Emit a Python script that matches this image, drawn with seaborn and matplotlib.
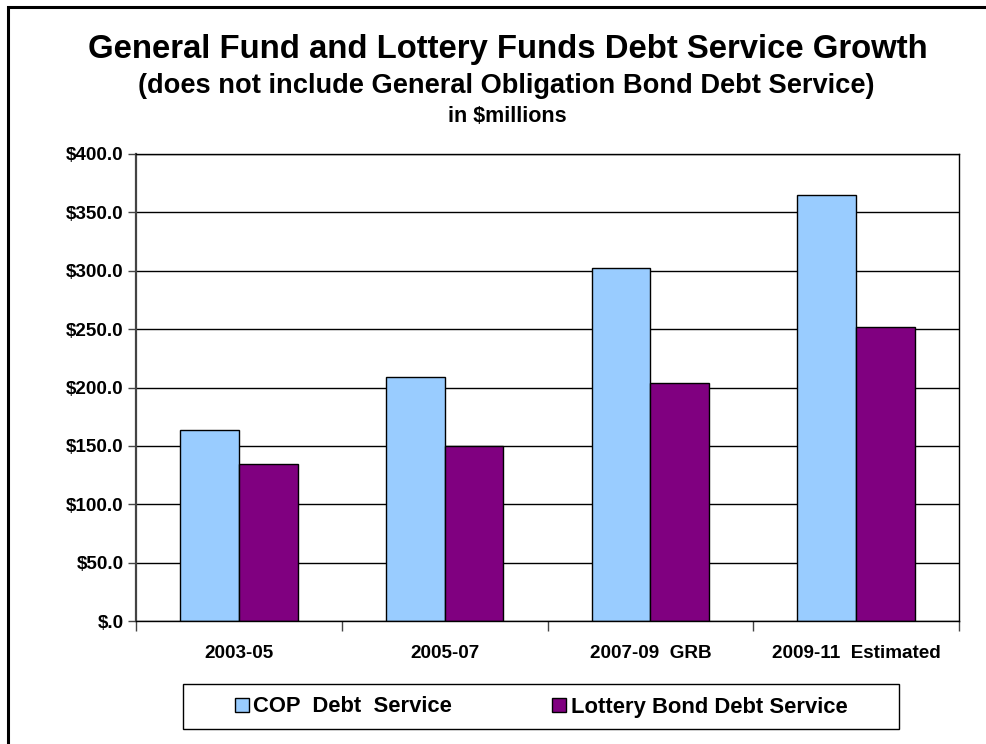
import matplotlib
matplotlib.use("Agg")
import matplotlib.pyplot as plt
import seaborn as sns
import pandas as pd
from matplotlib.ticker import FuncFormatter, FixedLocator
from matplotlib.patches import Rectangle

# ---- data ----
periods = ["2003-05", "2005-07", "2007-09  GRB", "2009-11  Estimated"]
cop_values = [163.6, 209.3, 302.1, 364.6]
lottery_values = [134.2, 149.9, 203.6, 251.5]
series_names = ["COP  Debt  Service", "Lottery Bond Debt Service"]
series_colors = ["#99CCFF", "#800080"]
y_ticks = [0, 50, 100, 150, 200, 250, 300, 350, 400]
title = "General Fund and Lottery Funds Debt Service Growth"
subtitle = "(does not include General Obligation Bond Debt Service)"
unit_text = "in $millions"

sns.set_theme(style="white")
plt.rcParams["font.family"] = ["Liberation Sans", "DejaVu Sans"]
plt.rcParams["font.weight"] = "bold"
plt.rcParams["text.color"] = "black"
plt.rcParams["xtick.color"] = "black"
plt.rcParams["ytick.color"] = "black"

df = pd.DataFrame({
    "period": periods * 2,
    "value": cop_values + lottery_values,
    "series": [series_names[0]] * len(periods) + [series_names[1]] * len(periods),
})

W, H = 986, 744
fig = plt.figure(figsize=(W / 100, H / 100), dpi=100)
fig.patch.set_facecolor("white")

ax = fig.add_axes([136 / W, 1 - 621 / H, (959 - 136) / W, (621 - 154) / H])
sns.barplot(data=df, x="period", y="value", hue="series", hue_order=series_names,
            order=periods, palette=series_colors, width=0.57, saturation=1,
            edgecolor="black", linewidth=1.0, ax=ax)

handles, labels = ax.get_legend_handles_labels()
if ax.get_legend() is not None:
    ax.get_legend().remove()

ax.set_xlim(-0.5, len(periods) - 0.5)
ax.set_ylim(0, 400)
ax.set_yticks(y_ticks)
ax.yaxis.set_major_formatter(FuncFormatter(lambda v, p: "$.0" if v == 0 else f"${v:.1f}"))
ax.set_xlabel("")
ax.set_ylabel("")
ax.set_axisbelow(True)
ax.yaxis.grid(True, color="black", linewidth=1.0)
ax.xaxis.grid(False)

for s in ax.spines.values():
    s.set_visible(True)
    s.set_color("black")
    s.set_linewidth(1.0)
ax.spines["left"].set_color("#444444")
ax.spines["left"].set_linewidth(1.6)

ax.xaxis.set_minor_locator(FixedLocator([i - 0.5 for i in range(len(periods) + 1)]))
ax.tick_params(axis="x", which="major", length=0, pad=17, labelsize=13.6, labelcolor="black")
ax.tick_params(axis="x", which="minor", bottom=True, length=7, width=1, color="#444444", direction="out")
ax.tick_params(axis="y", which="major", left=True, length=6, width=1, color="#444444",
               direction="out", pad=3, labelsize=13.6, labelcolor="black")
for t in ax.get_xticklabels() + ax.get_yticklabels():
    t.set_fontweight("bold")

# titles
fig.text(508 / W, 1 - 58 / H, title, ha="center", va="baseline", fontsize=23.7, fontweight="bold")
fig.text(506 / W, 1 - 93 / H, subtitle, ha="center", va="baseline", fontsize=19.6, fontweight="bold")
fig.text(507 / W, 1 - 122 / H, unit_text, ha="center", va="baseline", fontsize=15.5, fontweight="bold")

# legend
fig.patches.append(Rectangle((183 / W, 1 - 729 / H), 716 / W, 45 / H, transform=fig.transFigure,
                             fill=False, edgecolor="black", linewidth=1.0))
leg = fig.legend(handles, labels, loc="center left", bbox_to_anchor=(235 / W, 1 - 707 / H),
                 ncol=2, frameon=False, borderpad=0, borderaxespad=0, handlelength=0.64,
                 handleheight=0.64, handletextpad=0.2, columnspacing=4.55,
                 prop={"size": 15.8, "weight": "bold"})

# outer border
fig.patches.append(Rectangle((8 / W, -0.05), 1.2, 1 - 7 / H + 0.05, transform=fig.transFigure,
                             fill=False, edgecolor="black", linewidth=2.2))

fig.savefig("out.png", dpi=100, facecolor="white")
